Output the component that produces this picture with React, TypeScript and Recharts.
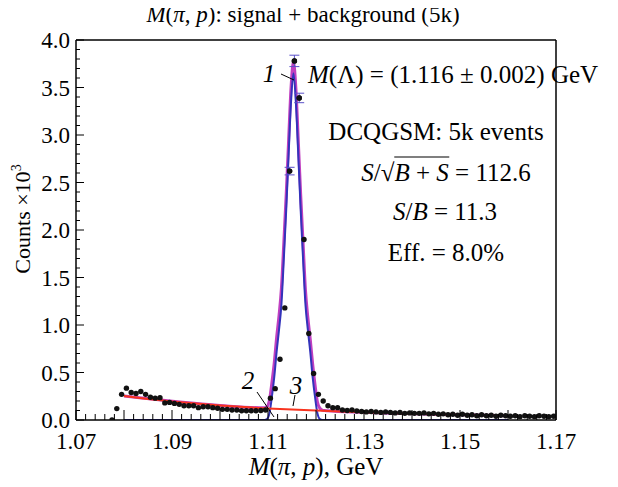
import React from 'react';
import { ComposedChart, Line, Scatter, XAxis, YAxis, ReferenceLine, ErrorBar } from 'recharts';

// histogram bin centres, GeV
const massBins = [
  1.0775, 1.0785, 1.0795, 1.0805, 1.0815, 1.0825, 1.0835, 1.0845, 1.0855, 1.0865,
  1.0875, 1.0885, 1.0895, 1.0905, 1.0915, 1.0925, 1.0935, 1.0945, 1.0955, 1.0965,
  1.0975, 1.0985, 1.0995, 1.1005, 1.1015, 1.1025, 1.1035, 1.1045, 1.1055, 1.1065,
  1.1075, 1.1085, 1.1095, 1.1105, 1.1115, 1.1125, 1.1135, 1.1145, 1.1155, 1.1165,
  1.1175, 1.1185, 1.1195, 1.1205, 1.1215, 1.1225, 1.1235, 1.1245, 1.1255, 1.1265,
  1.1275, 1.1285, 1.1295, 1.1305, 1.1315, 1.1325, 1.1335, 1.1345, 1.1355, 1.1365,
  1.1375, 1.1385, 1.1395, 1.1405, 1.1415, 1.1425, 1.1435, 1.1445, 1.1455, 1.1465,
  1.1475, 1.1485, 1.1495, 1.1505, 1.1515, 1.1525, 1.1535, 1.1545, 1.1555, 1.1565,
  1.1575, 1.1585, 1.1595, 1.1605, 1.1615, 1.1625, 1.1635, 1.1645, 1.1655, 1.1665,
  1.1675, 1.1685, 1.1695,
];
// counts x10^3
const counts = [
  0.0, 0.12, 0.27, 0.335, 0.29, 0.28, 0.3, 0.27, 0.24, 0.23,
  0.235, 0.18, 0.185, 0.175, 0.165, 0.15, 0.15, 0.15, 0.13, 0.14,
  0.14, 0.13, 0.123, 0.112, 0.112, 0.105, 0.105, 0.098, 0.098, 0.098,
  0.098, 0.1, 0.105, 0.23, 0.33, 0.64, 1.18, 2.62, 3.78, 3.39,
  1.9, 0.91, 0.49, 0.27, 0.2, 0.15, 0.13, 0.13, 0.105, 0.1,
  0.105, 0.095, 0.09, 0.085, 0.09, 0.085, 0.08, 0.085, 0.08, 0.075,
  0.08, 0.07, 0.075, 0.07, 0.07, 0.075, 0.065, 0.07, 0.06, 0.065,
  0.055, 0.06, 0.05, 0.06, 0.05, 0.055, 0.045, 0.055, 0.045, 0.05,
  0.04, 0.05, 0.045, 0.04, 0.045, 0.035, 0.045, 0.04, 0.035, 0.045,
  0.04, 0.035, 0.04,
];
// error bars drawn only around the peak
const errMass = [1.1145, 1.1155, 1.1165];
const errCounts = [2.62, 3.78, 3.39];
const errSize = [0.04, 0.06, 0.05];

// fit curves
const bgMass = [1.08, 1.085, 1.09, 1.095, 1.1, 1.105, 1.11, 1.115, 1.12, 1.125, 1.13, 1.135, 1.14, 1.145, 1.15, 1.155, 1.16];
const bgFit = [0.252, 0.222, 0.196, 0.173, 0.153, 0.136, 0.122, 0.11, 0.099, 0.089, 0.081, 0.074, 0.067, 0.061, 0.056, 0.051, 0.046];

const peakMass = [
  1.08, 1.1, 1.1093, 1.1098, 1.1103, 1.1108, 1.1113, 1.1118, 1.1123, 1.1128, 1.1133, 1.1138,
  1.1143, 1.1148, 1.1153, 1.1158, 1.1163, 1.1168, 1.1173, 1.1178, 1.1183, 1.1188,
  1.1193, 1.1198, 1.1203, 1.1208, 1.1213, 1.1218, 1.1223, 1.13, 1.16,
];
const signalFit = [
  0, 0, 0, 0.01, 0.07, 0.24, 0.45, 0.72, 0.95, 1.22, 1.7, 2.22,
  2.8, 3.35, 3.65, 3.35, 2.8, 2.22, 1.7, 1.22, 0.95, 0.72,
  0.45, 0.24, 0.07, 0.01, 0, 0, 0, 0, 0,
];
const totalFit = [
  0.252, 0.153, 0.128, 0.14, 0.21, 0.39, 0.6, 0.87, 1.1, 1.39, 1.87, 2.38,
  2.95, 3.5, 3.77, 3.5, 2.95, 2.38, 1.87, 1.37, 1.08, 0.85,
  0.59, 0.37, 0.19, 0.125, 0.105, 0.1, 0.098, 0.081, 0.046,
];

const xLabels = ['1.07', '1.09', '1.11', '1.13', '1.15', '1.17'];
const yLabels = ['0.0', '0.5', '1.0', '1.5', '2.0', '2.5', '3.0', '3.5', '4.0'];

const W = 610;
const H = 479;
const PL = 68;
const PR = 548;
const PT = 32;
const PB = 412;
const FONT = '"Liberation Serif", "Times New Roman", serif';

const xTicks = Array.from({ length: 51 }, (_, i) => +(1.07 + i * 0.002).toFixed(3));
const yTicks = Array.from({ length: 41 }, (_, i) => +(i * 0.1).toFixed(1));

const pts = massBins.map((m, i) => ({ m, c: counts[i] }));
const errPts = errMass.map((m, i) => ({ m, c: errCounts[i], e: errSize[i] }));
const bgData = bgMass.map((m, i) => ({ m, v: bgFit[i] }));
const sigData = peakMass.map((m, i) => ({ m, v: signalFit[i] }));
const totData = peakMass.map((m, i) => ({ m, v: totalFit[i] }));

const XTick = (props: any) => {
  const { x, payload } = props;
  const v = payload.value;
  const major = Math.abs(v * 100 - Math.round(v * 100)) < 1e-6;
  const lab = xLabels.find(l => Math.abs(parseFloat(l) - v) < 1e-6);
  return (
    <g>
      <line x1={x} x2={x} y1={PB} y2={PB - (major ? 10 : 6)} stroke="#000" strokeWidth={1} />
      {lab && (
        <text x={x} y={PB + 29} textAnchor="middle" fontFamily={FONT} fontSize={23} fill="#000">
          {lab}
        </text>
      )}
    </g>
  );
};

const YTick = (props: any) => {
  const { y, payload } = props;
  const v = payload.value;
  const major = Math.abs(v * 2 - Math.round(v * 2)) < 1e-6;
  const lab = yLabels.find(l => Math.abs(parseFloat(l) - v) < 1e-6);
  return (
    <g>
      <line x1={PL} x2={PL + (major ? 8 : 4)} y1={y} y2={y} stroke="#000" strokeWidth={1} />
      {lab && (
        <text x={PL - 6} y={y + 8} textAnchor="end" fontFamily={FONT} fontSize={23} fill="#000">
          {lab}
        </text>
      )}
    </g>
  );
};

const Txt = ({ x, y, children, anchor = 'center', size = 25 }: any) => (
  <div
    style={{
      position: 'absolute',
      left: x,
      top: y,
      transform: anchor === 'center' ? 'translate(-50%,-50%)' : 'translate(0,-50%)',
      whiteSpace: 'nowrap',
      fontFamily: FONT,
      fontSize: size,
      lineHeight: 1,
      color: '#000',
    }}
  >
    {children}
  </div>
);

const I = ({ children }: any) => <span style={{ fontStyle: 'italic' }}>{children}</span>;

export default function App() {
  return (
    <div style={{ position: 'relative', width: W, height: H }}>
      <ComposedChart width={W} height={H} margin={{ top: PT, right: W - PR, bottom: 37, left: 8 }}>
        <XAxis
          dataKey="m"
          type="number"
          domain={[1.07, 1.17]}
          ticks={xTicks}
          interval={0}
          tickLine={false}
          tick={<XTick />}
          height={30}
          axisLine={{ stroke: '#000', strokeWidth: 1.5 }}
          allowDataOverflow
        />
        <YAxis
          type="number"
          domain={[0, 4]}
          ticks={yTicks}
          interval={0}
          tickLine={false}
          tick={<YTick />}
          width={60}
          axisLine={{ stroke: '#000', strokeWidth: 1.5 }}
          allowDataOverflow
        />
        <ReferenceLine y={4} stroke="#000" strokeWidth={1.5} />
        <ReferenceLine x={1.17} stroke="#000" strokeWidth={1.5} />
        <Line data={totData} dataKey="v" type="monotone" stroke="#c040c0" strokeWidth={3} dot={false} isAnimationActive={false} />
        <Line data={sigData} dataKey="v" type="monotone" stroke="#3333bb" strokeWidth={2} dot={false} isAnimationActive={false} />
        <Line data={bgData} dataKey="v" type="monotone" stroke="#f8341f" strokeWidth={2} dot={false} isAnimationActive={false} />
        <Scatter
          data={pts}
          dataKey="c"
          isAnimationActive={false}
          shape={(p: any) => <circle cx={p.cx} cy={p.cy} r={2.7} fill="#111" />}
        />
        <Scatter
          data={errPts}
          dataKey="c"
          isAnimationActive={false}
          shape={(p: any) => <circle cx={p.cx} cy={p.cy} r={2.7} fill="#111" />}
        >
          <ErrorBar dataKey="e" direction="y" width={5} stroke="#5a50c8" strokeWidth={1} />
        </Scatter>
      </ComposedChart>

      <svg width={W} height={H} style={{ position: 'absolute', left: 0, top: 0, pointerEvents: 'none' }}>
        <line x1={273} y1={66} x2={286} y2={72} stroke="#000" strokeWidth={1} />
        <line x1={249} y1={384} x2={266} y2={409} stroke="#000" strokeWidth={1} />
        <line x1={287} y1={387} x2={285} y2={398} stroke="#000" strokeWidth={1} />
      </svg>

      <Txt x={295} y={6} size={23}>
        <I>M</I>(<I>π</I>, <I>p</I>): signal + background (5k)
      </Txt>
      <Txt x={261} y={65}>
        <I>1</I>
      </Txt>
      <Txt x={300} y={66} anchor="left">
        <I>M</I>(Λ) = (1.116 ± 0.002) GeV
      </Txt>
      <Txt x={428} y={123}>DCQGSM: 5k events</Txt>
      <Txt x={438} y={164}>
        <I>S</I>/√<span style={{ borderTop: '1px solid #000', paddingTop: 1 }}>
          <I>B</I> + <I>S</I>
        </span>{' '}
        = 112.6
      </Txt>
      <Txt x={437} y={203}>
        <I>S</I>/<I>B</I> = 11.3
      </Txt>
      <Txt x={438} y={244}>Eff. = 8.0%</Txt>
      <Txt x={240} y={372}>
        <I>2</I>
      </Txt>
      <Txt x={288} y={377}>
        <I>3</I>
      </Txt>
      <Txt x={308} y={458}>
        <I>M</I>(<I>π</I>, <I>p</I>), GeV
      </Txt>
      <div
        style={{
          position: 'absolute',
          left: 14,
          top: 211,
          transform: 'translate(-50%,-50%) rotate(-90deg)',
          whiteSpace: 'nowrap',
          fontFamily: FONT,
          fontSize: 22,
          lineHeight: 1,
        }}
      >
        Counts ×10<sup style={{ fontSize: 14 }}>3</sup>
      </div>
    </div>
  );
}
